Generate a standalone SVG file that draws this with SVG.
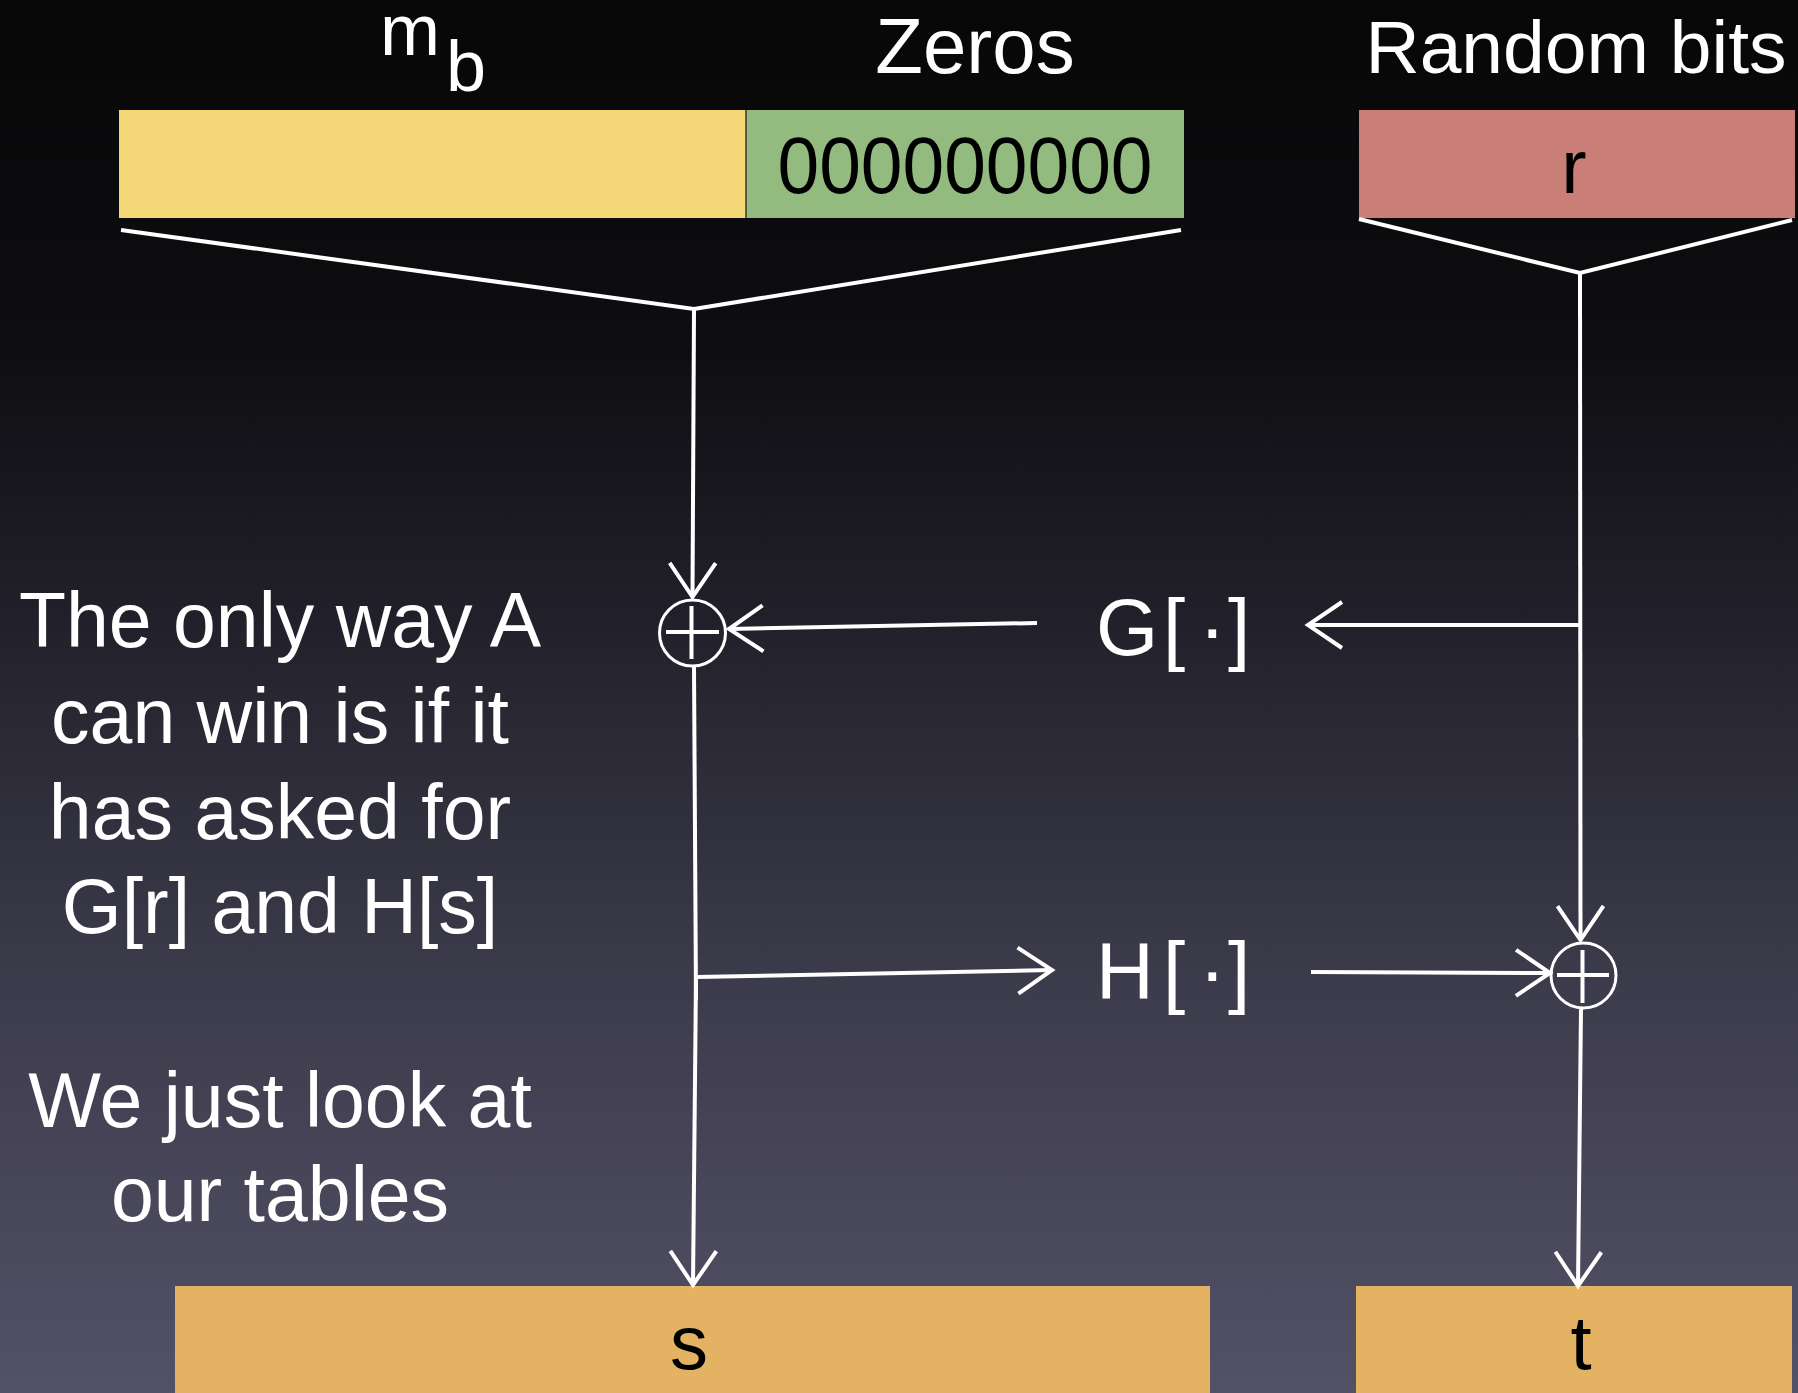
<svg xmlns="http://www.w3.org/2000/svg" width="1798" height="1393" viewBox="0 0 1798 1393">
<defs>
<linearGradient id="bg" x1="0" y1="0" x2="0" y2="1">
<stop offset="0" stop-color="#070707"/>
<stop offset="0.25" stop-color="#0e0e12"/>
<stop offset="0.45" stop-color="#22212b"/>
<stop offset="0.7" stop-color="#3c3b4b"/>
<stop offset="1" stop-color="#535166"/>
</linearGradient>
<marker id="ah" viewBox="-42 -25 46 50" markerWidth="46" markerHeight="50" refX="0" refY="0" orient="auto" markerUnits="userSpaceOnUse">
<path d="M-34,-23 L0,0 L-34,23" fill="none" stroke="#fff" stroke-width="4"/>
</marker>
<style>
.t{font-family:"Liberation Sans",Arial,sans-serif;fill:#fff}
.k{font-family:"Liberation Sans",Arial,sans-serif;fill:#000}
.ln{stroke:#fff;stroke-width:4;fill:none}
.ar{stroke:#fff;stroke-width:4;fill:none;marker-end:url(#ah)}
.xo{stroke:#fff;stroke-width:3;fill:none}
</style>
</defs>
<rect width="1798" height="1393" fill="url(#bg)"/>

<g id="label-mb"><text class="t" font-size="72" x="380" y="55">m<tspan x="446" y="91">b</tspan></text></g>
<g id="label-zeros"><text class="t" font-size="78" x="975" y="73" text-anchor="middle">Zeros</text></g>
<g id="label-random"><text class="t" font-size="75" x="1576" y="73" text-anchor="middle">Random bits</text></g>

<g id="node-mb"><rect x="119" y="110" width="627" height="108" fill="#f4d878"/></g>
<g id="node-zeros"><rect x="746" y="110" width="438" height="108" fill="#93bb80"/>
<line x1="746" y1="110" x2="746" y2="218" stroke="#3a3a2a" stroke-width="1.5"/>
<text class="k" font-size="80" x="965" y="193" text-anchor="middle" textLength="375" lengthAdjust="spacingAndGlyphs">000000000</text></g>
<g id="node-r"><rect x="1359" y="110" width="436" height="108" fill="#c97f78"/>
<text class="k" font-size="76" x="1574" y="193" text-anchor="middle">r</text></g>

<g id="node-s"><rect x="175" y="1286" width="1035" height="107" fill="#e3b262"/>
<text class="k" font-size="76" x="689" y="1369" text-anchor="middle">s</text></g>
<g id="node-t"><rect x="1356" y="1286" width="436" height="107" fill="#e3b262"/>
<text class="k" font-size="76" x="1581" y="1369" text-anchor="middle">t</text></g>

<g id="node-xor1"><ellipse cx="692.5" cy="633" rx="33" ry="33" class="xo"/>
<line x1="666" y1="632" x2="719" y2="632" class="ln"/><line x1="691.5" y1="606" x2="691.5" y2="659" class="ln"/></g>
<g id="node-xor2"><ellipse cx="1583.5" cy="975.5" rx="32.5" ry="32.5" class="xo"/>
<line x1="1557" y1="975" x2="1609" y2="975" class="ln"/><line x1="1582.5" y1="950" x2="1582.5" y2="1003" class="ln"/></g>

<g id="node-G"><text class="t" font-size="80" y="655"><tspan x="1096">G</tspan><tspan x="1163">[</tspan><tspan x="1199">·</tspan><tspan x="1228">]</tspan></text></g>
<g id="node-H"><text class="t" font-size="80" y="998"><tspan x="1096">H</tspan><tspan x="1163">[</tspan><tspan x="1199">·</tspan><tspan x="1228">]</tspan></text></g>

<g id="text-left" class="t" font-size="77" text-anchor="middle">
<text x="280" y="647">The only way A</text>
<text x="280" y="743">can win is if it</text>
<text x="280" y="839">has asked for</text>
<text x="280" y="933">G[r] and H[s]</text>
<text x="280" y="1127">We just look at</text>
<text x="280" y="1221">our tables</text>
</g>

<g id="connectors">
<polyline class="ln" points="121,230 694,309 1181,230"/>
<polyline class="ln" points="1359,219 1580,273 1792,220"/>
<line class="ar" x1="694" y1="309" x2="692.5" y2="597"/>
<line class="ln" x1="694" y1="667" x2="696" y2="1000"/>
<line class="ar" x1="696" y1="977" x2="693" y2="1285"/>
<line class="ar" x1="1037" y1="623" x2="729" y2="629"/>
<line class="ar" x1="1580" y1="273" x2="1580.5" y2="940"/>
<line class="ar" x1="1580" y1="625" x2="1308" y2="625"/>
<line class="ar" x1="697" y1="977" x2="1052" y2="970"/>
<line class="ar" x1="1311" y1="972" x2="1550" y2="973"/>
<line class="ar" x1="1581" y1="1009" x2="1578" y2="1286"/>
</g>
</svg>
